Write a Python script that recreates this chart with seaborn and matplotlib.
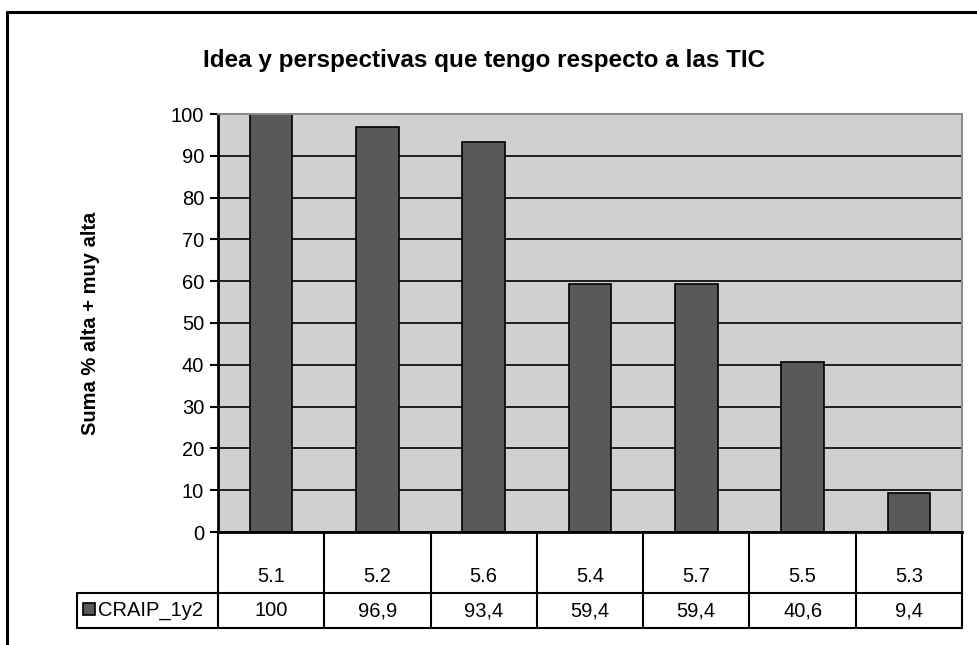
import matplotlib
matplotlib.use("Agg")
import matplotlib.pyplot as plt
from matplotlib.lines import Line2D
import seaborn as sns

# data
categories = ["5.1", "5.2", "5.6", "5.4", "5.7", "5.5", "5.3"]
values = [100, 96.9, 93.4, 59.4, 59.4, 40.6, 9.4]
value_labels = ["100", "96,9", "93,4", "59,4", "59,4", "40,6", "9,4"]
series_name = "CRAIP_1y2"
y_ticks = list(range(0, 101, 10))

sns.set_theme(style="white")
plt.rcParams["font.family"] = ["Liberation Sans", "DejaVu Sans"]
plt.rcParams["text.color"] = "black"
plt.rcParams["axes.labelcolor"] = "black"
plt.rcParams["ytick.color"] = "black"

W, H = 978, 645
fig = plt.figure(figsize=(W / 100, H / 100), dpi=100)

# plot area in pixels: x 218..962, y 114..532
ax = fig.add_axes([218 / W, 1 - 532 / H, (962 - 218) / W, (532 - 114) / H])
ax.set_facecolor("#D0D0D0")

sns.barplot(x=categories, y=values, color="#595959", edgecolor="black",
            linewidth=1.2, width=0.4, saturation=1, ax=ax)

ax.set_xlim(-0.5, len(categories) - 0.5)
ax.set_ylim(0, 100)
ax.set_yticks(y_ticks)
ax.tick_params(axis="y", which="major", direction="out", length=6, width=1.5,
               color="black", labelcolor="black", labelsize=14.5, pad=4, left=True)
ax.set_xticks([])
ax.set_xlabel("")

ax.set_axisbelow(True)
ax.yaxis.grid(True, color="black", linewidth=1.2)
ax.xaxis.grid(False)

for side in ["left", "bottom"]:
    ax.spines[side].set_color("black")
    ax.spines[side].set_linewidth(2)
for side in ["top", "right"]:
    ax.spines[side].set_color("#8C8C8C")
    ax.spines[side].set_linewidth(1.5)

ax.set_ylabel("Suma % alta + muy alta", fontsize=14.5, fontweight="bold", color="black")
ax.yaxis.set_label_coords((100 - 218) / (962 - 218), 0.5)

fig.text(484 / W, 1 - 60 / H, "Idea y perspectivas que tengo respecto a las TIC",
         ha="center", va="center", fontsize=17.5, fontweight="bold", color="black")

# data table under the axis
tr = ax.get_xaxis_transform()
px = (532 - 114)
row1 = -(593 - 532) / px
row2 = -(628 - 532) / px
n = len(categories)
x_left = -0.5 + (77 - 218) / ((962 - 218) / n)
lw = 1.5
for k in range(n + 1):
    ax.plot([k - 0.5, k - 0.5], [0, row2], color="black", lw=lw,
            transform=tr, clip_on=False)
for yy in [row1, row2]:
    ax.plot([x_left, n - 0.5], [yy, yy], color="black", lw=lw,
            transform=tr, clip_on=False)
ax.plot([x_left, x_left], [row1, row2], color="black", lw=lw,
        transform=tr, clip_on=False)

for i, (cat, lab) in enumerate(zip(categories, value_labels)):
    ax.text(i, -(577 - 532) / px, cat, ha="center", va="center", color="black",
            fontsize=14.5, transform=tr, clip_on=False)
    ax.text(i, -(611 - 532) / px, lab, ha="center", va="center", color="black",
            fontsize=14.5, transform=tr, clip_on=False)

unit = (962 - 218) / n
ax.plot([-0.5 + (89 - 218) / unit], [-(609 - 532) / px], marker="s", ms=8,
        mfc="#595959", mec="black", mew=1.2, transform=tr, clip_on=False)
ax.text(-0.5 + (98 - 218) / unit, -(611 - 532) / px, series_name, color="black",
        ha="left", va="center", fontsize=14.5, transform=tr, clip_on=False)

# outer chart border (top and left visible)
fig.add_artist(Line2D([7 / W, 1], [1 - 12 / H, 1 - 12 / H], color="black", lw=2.2))
fig.add_artist(Line2D([7 / W, 7 / W], [0, 1 - 12 / H], color="black", lw=2.2))

fig.savefig("out.png", dpi=100)
